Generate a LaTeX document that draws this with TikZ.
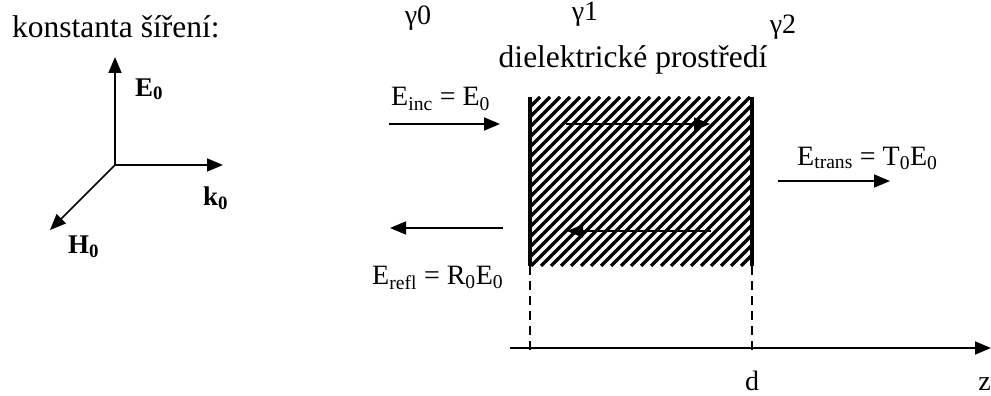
\documentclass[tikz,border=0pt]{standalone}
\usepackage{fontspec}
\setmainfont{Liberation Serif}
\usetikzlibrary{arrows.meta,positioning}

\begin{document}
\begin{tikzpicture}[x=1pt, y=-1pt,
  lbl/.style={font=\fontsize{28}{32}\selectfont, inner sep=0pt},
  big/.style={font=\fontsize{31.5}{36}\selectfont, inner sep=0pt},
  vec/.style={font=\fontsize{27}{32}\selectfont\bfseries, inner sep=0pt},
  arr/.style={-{Triangle[length=16pt,width=13pt]}, line width=1.7pt},
  wall/.style={line width=4pt},
  guide/.style={line width=1.6pt, dash pattern=on 9pt off 6pt},
]
  \useasboundingbox (0,0) rectangle (991,396);

  % propagation triad
  \node[big, anchor=base west] (title) at (12,38) {konstanta šíření:};
  \coordinate (o) at (115,165);
  \coordinate (etip) at (115,57);
  \coordinate (ktip) at (223,165);
  \coordinate (htip) at (50,230);
  \draw[arr] (o) -- (etip);
  \draw[arr] (o) -- (ktip);
  \draw[arr] (o) -- (htip);
  \node[vec, anchor=base west] (e0) at (135,96) {E\textsubscript{0}};
  \node[vec, anchor=base west] (k0) at (203,205) {k\textsubscript{0}};
  \node[vec, anchor=base west] (h0) at (68,253) {H\textsubscript{0}};

  % media
  \node[lbl] (g0) at (418,18) {γ0};
  \node[lbl] (g1) at (585,14) {γ1};
  \node[lbl] (g2) at (783,27) {γ2};
  \node[big, anchor=base] (diel) at (633,68) {dielektrické prostředí};

  % the slab
  \node[minimum width=222pt, minimum height=169pt, inner sep=0pt] (slab) at (641,181.5) {};
  \begin{scope}
    \clip (slab.south west) rectangle (slab.north east);
    \foreach \i in {0,...,40}
      \draw[line width=3.3pt] (361+\i*10,266) -- ++(169,-169);
  \end{scope}
  \draw[wall] (slab.north west) -- (slab.south west);
  \draw[wall] (slab.north east) -- (slab.south east);

  \coordinate (fwdA) at (566,124);
  \coordinate (fwdB) at (710,124);
  \coordinate (bwdA) at (711,231);
  \coordinate (bwdB) at (567,231);
  \draw[arr, line width=1.4pt] (fwdA) -- (fwdB);
  \draw[arr, line width=1.4pt] (bwdA) -- (bwdB);

  % incident, reflected, transmitted waves
  \coordinate (incA) at (389,124);
  \coordinate (incB) at (500,124);
  \draw[arr] (incA) -- (incB);
  \node[lbl, anchor=base west] (einc) at (391,106) {E\textsubscript{inc} = E\textsubscript{0}};

  \coordinate (refA) at (503,228);
  \coordinate (refB) at (390,228);
  \draw[arr] (refA) -- (refB);
  \node[lbl, anchor=base west] (eref) at (372,284) {E\textsubscript{refl} = R\textsubscript{0}E\textsubscript{0}};

  \coordinate (trA) at (778,181);
  \coordinate (trB) at (890,181);
  \draw[arr] (trA) -- (trB);
  \node[lbl, anchor=base west] (etr) at (797,165) {E\textsubscript{trans} = T\textsubscript{0}E\textsubscript{0}};

  % z axis
  \coordinate (zA) at (510,348);
  \coordinate (zB) at (991,348);
  \draw[arr] (zA) -- (zB);
  \draw[guide] (slab.south west) -- (slab.south west |- 0,356);
  \draw[guide] (slab.south east) -- (slab.south east |- 0,356);
  \node[lbl, anchor=base, text depth=0pt] (dlbl) at (752,390) {d};
  \node[lbl, anchor=base east, text depth=0pt] (zlbl) at (991,390) {z};
\end{tikzpicture}
\end{document}
